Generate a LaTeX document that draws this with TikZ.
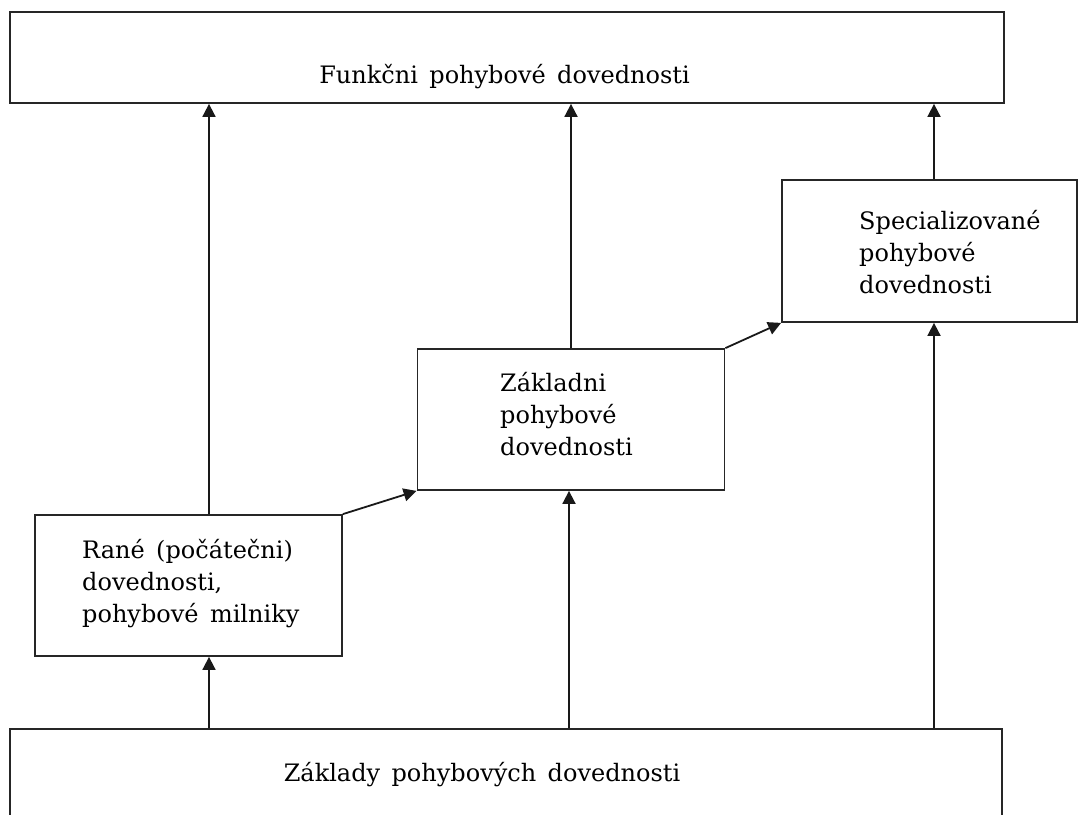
\documentclass[tikz,border=0pt]{standalone}
\usepackage{fontspec}
\setmainfont[WordSpace=1.5]{DejaVu Serif}
\usetikzlibrary{arrows.meta}
\begin{document}
\begin{tikzpicture}[x=1pt,y=-1pt,
  box/.style={draw=black!85, line width=1.8pt, rectangle, inner sep=0pt},
  lbl/.style={inner sep=0pt, align=left, font=\fontsize{24}{32}\selectfont, text=black},
  arr/.style={draw=black!90, line width=1.8pt, -{Triangle[length=13pt,width=13pt]}}]
\clip (0,0) rectangle (1078,814);
\useasboundingbox (0,0) rectangle (1078,814);
\fill[white] (0,0) rectangle (1078,814);
% boxes
\node[box, minimum width=994pt, minimum height=91pt] (top) at (507,57.5) {};
\node[box, minimum width=992pt, minimum height=100pt] (base) at (506,779) {};
\node[box, minimum width=307pt, minimum height=141pt] (rane) at (188.5,585.5) {};
\node[box, minimum width=307pt, minimum height=141pt] (zakl) at (571,419.5) {};
\node[box, minimum width=295pt, minimum height=142pt] (spec) at (929.5,251) {};
% texts
\node[lbl, anchor=base] (topT) at (504.5,83) {Funkčni pohybové dovednosti};
\node[lbl, anchor=base] (baseT) at (482,781) {Základy pohybových dovednosti};
\node[lbl, anchor=base west] (raneT) at (82,622) {Rané (počátečni)\\dovednosti,\\pohybové milniky};
\node[lbl, anchor=base west] (zaklT) at (500,455) {Základni\\pohybové\\dovednosti};
\node[lbl, anchor=base west] (specT) at (859,293) {Specializované\\pohybové\\dovednosti};
% connectors
\coordinate (ra) at ([xshift=20.5pt]rane.north);
\coordinate (rb) at ([xshift=20.5pt]rane.south);
\coordinate (za) at ([xshift=0pt]zakl.north);
\coordinate (zb) at ([xshift=-2pt]zakl.south);
\coordinate (sa) at ([xshift=4.5pt]spec.north);
\coordinate (sb) at ([xshift=4.5pt]spec.south);
\draw[arr] (ra) -- (ra |- top.south);
\draw[arr] (rb |- base.north) -- (rb);
\draw[arr] (zb |- base.north) -- (zb);
\draw[arr] (za) -- (za |- top.south);
\draw[arr] (sa) -- (sa |- top.south);
\draw[arr] (sb |- base.north) -- (sb);
\draw[arr] (rane.north east) -- (zakl.south west);
\draw[arr] (zakl.north east) -- (spec.south west);
\end{tikzpicture}
\end{document}
